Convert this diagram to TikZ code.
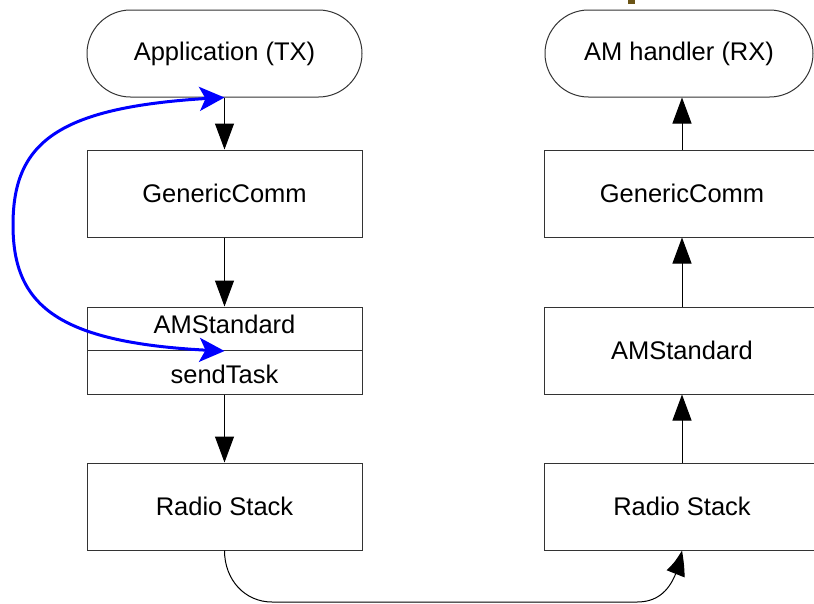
\documentclass[tikz,border=0pt]{standalone}
\usepackage{fontspec}
\setmainfont{Liberation Sans}
\usetikzlibrary{arrows.meta,bending,positioning}
\definecolor{speck}{HTML}{6B5416}
\tikzset{
  blk/.style={draw=black!80,line width=1pt,minimum width=275pt,minimum height=87pt,inner sep=0pt,font=\fontsize{25.5}{30}\selectfont},
  pill/.style={blk,rounded corners=43.5pt},
  halfblk/.style={blk,minimum height=43.5pt},
  flow/.style={line width=1pt,-{Triangle[length=26pt,width=19pt,bend]}},
  jump/.style={blue,line width=3pt,{Stealth[length=25pt,width=24pt,inset=6pt]}-{Stealth[length=25pt,width=24pt,inset=6pt]}}
}
\begin{document}
\begin{tikzpicture}[x=1pt,y=-1pt]
         \useasboundingbox (0,0) rectangle (814,603);
         \fill[speck] (628,0) rectangle (635,4);
         \node[pill] (appTX) at (224.5,53.5) {Application (TX)};
         \node[blk] (gcL) at (224.5,193.5) {GenericComm};
         \node[halfblk,text depth=8pt] (amsTop) at (224.5,328.75) {AMStandard};
         \node[halfblk,text height=23pt] (amsBot) at (224.5,372.25) {sendTask};
         \node[blk] (radioL) at (224.5,506.5) {Radio Stack};
         \node[pill,minimum width=268pt] (amRX) at (679,53.5) {AM handler (RX)};
         \node[blk] (gcR) at (682,193.5) {GenericComm};
         \node[blk] (amsR) at (682,350.5) {AMStandard};
         \node[blk] (radioR) at (682,506.5) {Radio Stack};
         \draw[flow] (appTX.south) -- (gcL.north);
         \draw[flow] (gcL.south) -- (amsTop.north);
         \draw[flow] (amsBot.south) -- (radioL.north);
         \draw[flow] (radioR.north) -- (amsR.south);
         \draw[flow] (amsR.north) -- (gcR.south);
         \draw[flow] (gcR.north) -- (gcR.north |- amRX.south);
         \draw[flow] (radioL.south) .. controls (224.5,580) and (245,602) .. (272,602) -- (637,602) .. controls (662,602) and (676,585) .. (radioR.south);
         \draw[jump] (appTX.south) .. controls (60,105) and (13,140) .. (13,225) .. controls (13,308) and (60,345) .. (amsTop.south);
      \end{tikzpicture}
\end{document}
